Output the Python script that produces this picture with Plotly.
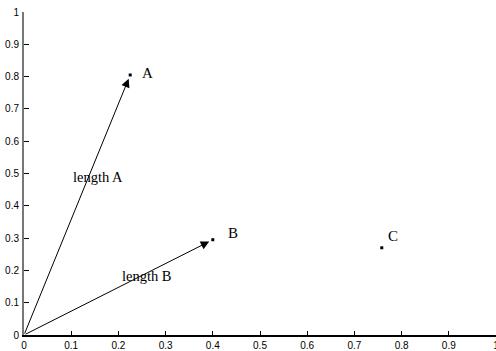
import plotly.graph_objects as go

# data
point_names = ["A", "B", "C"]
point_x = [0.225, 0.40, 0.758]
point_y = [0.805, 0.295, 0.27]
label_x = [0.262, 0.442, 0.782]
label_y = [0.81, 0.315, 0.305]
arrow_targets = ["A", "B"]
length_labels = ["length A", "length B"]
length_label_x = [0.157, 0.261]
length_label_y = [0.49, 0.182]
origin = (0.0, 0.0)
tick_vals = [0, 0.1, 0.2, 0.3, 0.4, 0.5, 0.6, 0.7, 0.8, 0.9, 1]
tick_text = ["0", "0.1", "0.2", "0.3", "0.4", "0.5", "0.6", "0.7", "0.8", "0.9", "1"]

serif = "Liberation Serif, Times New Roman, serif"
sans = "Liberation Sans, Arial, sans-serif"

fig = go.Figure()
fig.add_trace(go.Scatter(x=point_x, y=point_y, mode="markers",
                         marker=dict(symbol="square", size=3, color="black"),
                         hoverinfo="skip", showlegend=False, cliponaxis=False))

annotations = []
for n, lx, ly in zip(point_names, label_x, label_y):
    annotations.append(dict(x=lx, y=ly, xref="x", yref="y", text=n, showarrow=False,
                            font=dict(family=serif, size=15, color="black")))
for t in arrow_targets:
    i = point_names.index(t)
    annotations.append(dict(x=point_x[i], y=point_y[i], ax=origin[0], ay=origin[1],
                            xref="x", yref="y", axref="x", ayref="y", text="",
                            showarrow=True, arrowhead=2, arrowsize=1.7, arrowwidth=1,
                            arrowcolor="black", standoff=4))
for s, lx, ly in zip(length_labels, length_label_x, length_label_y):
    annotations.append(dict(x=lx, y=ly, xref="x", yref="y", text=s, showarrow=False,
                            font=dict(family=serif, size=14.5, color="black")))

fig.update_layout(
    template="none",
    width=496, height=351,
    margin=dict(l=24, r=0, t=12, b=16, autoexpand=False),
    paper_bgcolor="white", plot_bgcolor="white",
    annotations=annotations,
    xaxis=dict(range=[0, 1], tickvals=tick_vals, ticktext=tick_text, automargin=False,
               showgrid=False, zeroline=False, showline=True, linecolor="black", linewidth=1.5,
               ticks="inside", ticklen=4, tickcolor="black", tickwidth=1,
               ticklabeloverflow="allow",
               tickfont=dict(family=sans, size=10, color="black"), fixedrange=True),
    yaxis=dict(range=[0, 1], tickvals=tick_vals, ticktext=tick_text, automargin=False,
               showgrid=False, zeroline=False, showline=True, linecolor="#777777", linewidth=2,
               ticks="inside", ticklen=5, tickcolor="black", tickwidth=1,
               ticklabeloverflow="allow", ticklabelstandoff=1,
               tickfont=dict(family=sans, size=10, color="black"), fixedrange=True),
)
fig.write_html("out.html")
